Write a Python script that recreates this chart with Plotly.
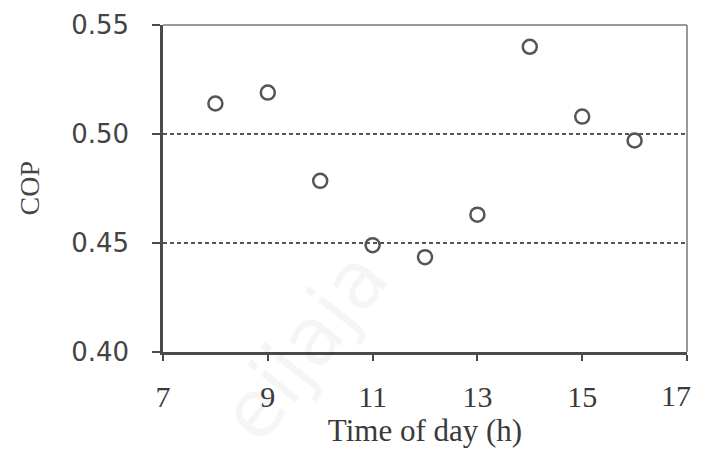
import plotly.graph_objects as go

hours = [8, 9, 10, 11, 12, 13, 14, 15, 16]
cop = [0.514, 0.519, 0.4785, 0.449, 0.4435, 0.463, 0.540, 0.508, 0.497]
x_ticks = [7, 9, 11, 13, 15, 17]
y_ticks = [0.40, 0.45, 0.50, 0.55]

tick_font = dict(family="Liberation Serif", size=30, color="#3a3a3a")

fig = go.Figure()
fig.add_trace(go.Scatter(
    x=hours, y=cop, mode="markers",
    marker=dict(symbol="circle-open", size=14, color="#555555",
                line=dict(width=2.5, color="#555555")),
    showlegend=False,
))

fig.add_shape(type="line", xref="paper", yref="paper", x0=0, x1=1, y0=1, y1=1,
              line=dict(color="#9a9a9a", width=2), layer="above")
fig.add_shape(type="line", xref="paper", yref="paper", x0=1, x1=1, y0=0, y1=1,
              line=dict(color="#9a9a9a", width=2), layer="above")

fig.add_annotation(text="eijaja", xref="paper", yref="paper", x=0.27, y=0.02,
                   xanchor="center", yanchor="middle",
                   showarrow=False, textangle=-52,
                   font=dict(family="DejaVu Sans", size=80, color="rgba(0,0,0,0.04)"))

fig.add_annotation(text="COP", xref="paper", yref="paper", x=-0.254, y=0.5,
                   xanchor="center", yanchor="middle", showarrow=False, textangle=-90,
                   font=dict(family="Liberation Serif", size=28, color="#444444"))

# last x tick label, kept inside the visible window
fig.add_annotation(text=str(x_ticks[-1]), x=x_ticks[-1], xref="x", yref="paper", y=-0.134,
                   xanchor="right", yanchor="middle", xshift=6, showarrow=False,
                   font=tick_font)

fig.update_layout(
    width=693, height=443,
    margin=dict(l=155, r=14, t=17, b=99),
    paper_bgcolor="white", plot_bgcolor="white",
    xaxis=dict(
        range=[7, 17], tickvals=x_ticks,
        ticktext=[str(v) for v in x_ticks[:-1]] + [""],
        showgrid=False, zeroline=False, automargin=False,
        ticklabeloverflow="allow",
        showline=True, linecolor="#4a4a4a", linewidth=2.5,
        ticks="outside", ticklen=6, tickwidth=2, tickcolor="#4a4a4a",
        ticklabelstandoff=10,
        tickfont=tick_font,
        title=dict(text="Time of day (h)", standoff=4,
                   font=dict(family="Liberation Serif", size=31, color="#3a3a3a")),
    ),
    yaxis=dict(
        range=[0.40, 0.55], tickvals=y_ticks, tickformat=".2f",
        showgrid=True, gridcolor="#555555", gridwidth=2, griddash="4px,3px",
        zeroline=False, automargin=False,
        showline=True, linecolor="#4a4a4a", linewidth=2.5,
        ticks="outside", ticklen=8, tickwidth=2, tickcolor="#4a4a4a",
        ticklabelstandoff=18,
        tickfont=dict(family="DejaVu Sans", size=26, color="#444444"),
    ),
)

fig.write_html("out.html")
